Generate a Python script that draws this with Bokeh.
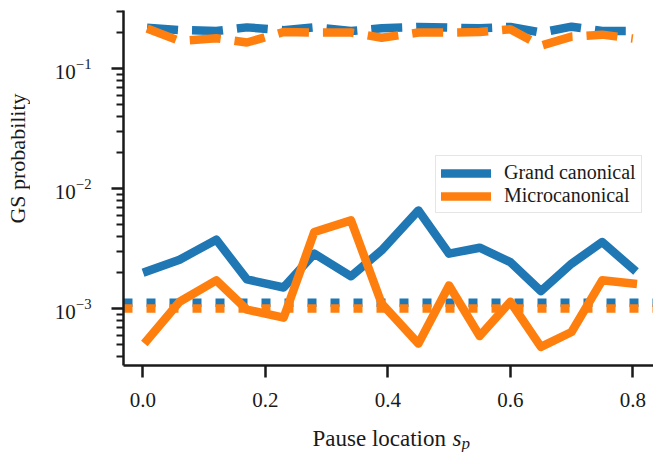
import math
from bokeh.plotting import figure
from bokeh.layouts import row, column
from bokeh.models import Range1d, FixedTicker, NumeralTickFormatter, Span, Label
from bokeh.embed import file_html
from bokeh.resources import INLINE

# ---------------- data ----------------
pause_loc = [0.007, 0.06, 0.12, 0.17, 0.23, 0.28, 0.34, 0.39,
             0.45, 0.50, 0.55, 0.60, 0.65, 0.70, 0.75, 0.80]
gc_main = [2.05e-3, 2.56e-3, 3.76e-3, 1.75e-3, 1.50e-3, 2.87e-3, 1.86e-3, 3.06e-3,
           6.59e-3, 2.87e-3, 3.22e-3, 2.44e-3, 1.40e-3, 2.37e-3, 3.59e-3, 2.15e-3]
mc_main = [5.44e-4, 1.14e-3, 1.72e-3, 9.8e-4, 8.4e-4, 4.35e-3, 5.44e-3, 1.10e-3,
           5.1e-4, 1.56e-3, 5.9e-4, 1.14e-3, 4.79e-4, 6.38e-4, 1.72e-3, 1.62e-3]
gc_upper = [0.220, 0.211, 0.207, 0.222, 0.210, 0.222, 0.207, 0.218,
            0.224, 0.221, 0.218, 0.224, 0.201, 0.225, 0.207, 0.207]
mc_upper = [0.217, 0.171, 0.180, 0.166, 0.203, 0.201, 0.201, 0.182,
            0.201, 0.201, 0.203, 0.214, 0.156, 0.186, 0.193, 0.179]
gc_ref = 1.12e-3
mc_ref = 1.0e-3
series_labels = ["Grand canonical", "Microcanonical"]
x_ticks = [0.0, 0.2, 0.4, 0.6, 0.8]
y_ticks = [1e-3, 1e-2, 1e-1]
y_minor = [m * 10.0 ** k for k in range(-4, 0) for m in range(2, 10)]

# ---------------- style / layout ----------------
BLUE, ORANGE = "#1f77b4", "#ff7f0e"
FONT = "Liberation Serif"
TEXT = "#1a1a1a"
YLAB_W = 30            # strip for the y-axis title
XLAB_H = 35            # strip for the x-axis title
W, H = 653 - YLAB_W, 452 - XLAB_H
BL, BR, BT, BB = 93, 0, 10, 52
FRAME_L, FRAME_R = YLAB_W + BL, 653   # page x of the plot frame
X0, X1 = -0.0315, 0.8338
Y0, Y1 = 3.35e-4, 0.307
LW = 8.5

p = figure(width=W, height=H, x_range=Range1d(X0, X1), y_range=Range1d(Y0, Y1),
           y_axis_type="log", output_backend="svg", toolbar_location=None,
           title=None, min_border_left=BL, min_border_right=BR,
           min_border_top=BT, min_border_bottom=BB)

# reference horizontal lines (dotted)
for loc, col in ((gc_ref, BLUE), (mc_ref, ORANGE)):
    p.add_layout(Span(location=loc, dimension="width", line_color=col,
                      line_width=LW, line_dash="9 14", level="underlay"))

p.line(pause_loc, gc_main, line_color=BLUE, line_width=LW, line_join="round",
       line_cap="square", legend_label=series_labels[0])
p.line(pause_loc, gc_upper, line_color=BLUE, line_width=LW, line_dash="31 14")
p.line(pause_loc, mc_main, line_color=ORANGE, line_width=LW, line_join="round",
       line_cap="square", legend_label=series_labels[1])
p.line(pause_loc, mc_upper, line_color=ORANGE, line_width=LW, line_dash="31 14")

# axes
p.xaxis.ticker = FixedTicker(ticks=x_ticks)
p.xaxis.formatter = NumeralTickFormatter(format="0.0")
p.yaxis.ticker = FixedTicker(ticks=y_ticks, minor_ticks=y_minor)
for ax in (p.xaxis, p.yaxis):
    ax.axis_line_width = 2.5
    ax.axis_line_color = TEXT
    ax.major_tick_line_width = 2.5
    ax.major_tick_line_color = TEXT
    ax.major_tick_out = 12
    ax.major_tick_in = 0
    ax.minor_tick_line_width = 2
    ax.minor_tick_line_color = TEXT
    ax.minor_tick_out = 7
    ax.minor_tick_in = 0
    ax.major_label_text_font = FONT
    ax.major_label_text_font_size = "21px"
    ax.major_label_text_color = TEXT
p.xaxis.minor_tick_line_color = None
p.xaxis.major_label_standoff = 15
p.yaxis.major_label_standoff = 20
p.grid.visible = False
p.outline_line_color = None

# legend
lg = p.legend[0]
lg.location = (312, 152)
lg.label_text_font = FONT
lg.label_text_font_size = "20px"
lg.label_text_color = TEXT
lg.glyph_width = 50
lg.glyph_height = 20
lg.label_height = 20
lg.label_standoff = 13
lg.padding = 5
lg.spacing = 0
lg.margin = 0
lg.border_line_color = "#cccccc"
lg.border_line_width = 1
lg.background_fill_alpha = 0.8


def strip(width, height, xr, yr):
    f = figure(width=width, height=height, x_range=Range1d(*xr),
               y_range=Range1d(*yr), output_backend="svg",
               toolbar_location=None, title=None, min_border=0,
               x_axis_location=None, y_axis_location=None)
    f.grid.visible = False
    f.outline_line_color = None
    return f


# y-axis title strip (left); coordinates = page pixels (y measured upward)
ylab = strip(YLAB_W, 452, (0, YLAB_W), (0, 452))
ylab.add_layout(Label(x=17, y=452 - 158, text="GS probability", angle=math.pi / 2,
                      text_align="center", text_baseline="middle",
                      text_font=FONT, text_font_size="22px", text_color=TEXT))

# x-axis title strip (bottom); its frame is aligned with the plot frame,
# so x coordinates are page pixels
xlab = strip(W, XLAB_H, (FRAME_L, FRAME_R), (0, XLAB_H))
base = 14
x_start = 312
xlab.add_layout(Label(x=x_start, y=base, text="Pause location", text_align="left",
                      text_baseline="alphabetic", text_font=FONT,
                      text_font_size="23px", text_color=TEXT))
xlab.add_layout(Label(x=x_start + 140, y=base, text="s", text_align="left",
                      text_baseline="alphabetic", text_font=FONT, text_font_style="italic",
                      text_font_size="23px", text_color=TEXT))
xlab.add_layout(Label(x=x_start + 149, y=base - 5, text="p", text_align="left",
                      text_baseline="alphabetic", text_font=FONT, text_font_style="italic",
                      text_font_size="17px", text_color=TEXT))

layout = row(ylab, column(p, xlab, spacing=0), spacing=0)
open("out.html", "w").write(file_html(layout, INLINE))
